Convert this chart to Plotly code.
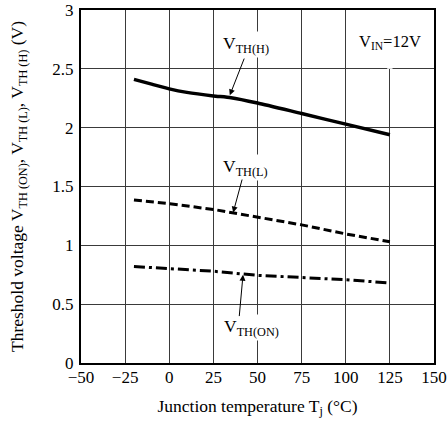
import plotly.graph_objects as go

# Junction temperature (°C)
temp_h = [-20, -10, 0, 10, 25, 35, 50, 75, 100, 125]
vth_h = [2.41, 2.37, 2.33, 2.30, 2.27, 2.255, 2.21, 2.12, 2.03, 1.94]

temp_l = [-20, 0, 25, 50, 75, 100, 125]
vth_l = [1.385, 1.354, 1.305, 1.24, 1.174, 1.097, 1.03]

temp_on = [-20, 0, 25, 50, 75, 100, 125]
vth_on = [0.82, 0.805, 0.78, 0.745, 0.727, 0.708, 0.68]

x_ticks = [-50, -25, 0, 25, 50, 75, 100, 125, 150]
y_ticks = [0, 0.5, 1, 1.5, 2, 2.5, 3]

FONT = "'Liberation Serif', 'Times New Roman', Times, serif"

fig = go.Figure()
fig.add_trace(go.Scatter(x=temp_h, y=vth_h, mode="lines", name="VTH(H)",
                         line=dict(color="black", width=3.5, shape="spline", smoothing=0.6)))
fig.add_trace(go.Scatter(x=temp_l, y=vth_l, mode="lines", name="VTH(L)",
                         line=dict(color="black", width=3, dash="8px,4px")))
fig.add_trace(go.Scatter(x=temp_on, y=vth_on, mode="lines", name="VTH(ON)",
                         line=dict(color="black", width=3, dash="11px,4px,3px,4px")))

# mask of the 125 °C gridline behind the V_IN label
fig.add_shape(type="rect", x0=123.5, x1=126.5, y0=2.5, y1=3, layer="between",
              line=dict(width=0), fillcolor="white")

ann_font = dict(family=FONT, size=17.5, color="black")
labels = [
    ("V<sub>TH(H)</sub>", 43.3, 2.71, 42.8, 2.6, 34.3, 2.275),
    ("V<sub>TH(L)</sub>", 43.4, 1.66, 41.5, 1.572, 36.2, 1.278),
    ("V<sub>TH(ON)</sub>", 46.7, 0.30, 39.6, 0.386, 41.8, 0.75),
]
for txt, tx, ty, ax_, ay_, px, py in labels:
    fig.add_annotation(x=tx, y=ty, text=txt, showarrow=False, font=ann_font,
                       bgcolor="white", borderpad=1)
    fig.add_annotation(x=px, y=py, ax=ax_, ay=ay_, axref="x", ayref="y", text="",
                       showarrow=True, arrowhead=2, arrowsize=1.2, arrowwidth=1,
                       arrowcolor="black")
fig.add_annotation(x=125.3, y=2.727, text="V<sub>IN</sub>=12V", showarrow=False,
                   font=dict(family=FONT, size=16.5, color="black"), bgcolor="white", borderpad=1)

fig.update_layout(
    width=448, height=425,
    margin=dict(l=81, r=13.5, t=9.5, b=61.5),
    paper_bgcolor="white", plot_bgcolor="white",
    showlegend=False,
    font=dict(family=FONT, size=17, color="black"),
)
fig.update_xaxes(range=[-50, 150], tickvals=x_ticks, ticktext=[str(v).replace("-", "−") for v in x_ticks],
                 showgrid=True, gridcolor="#3a3a3a", gridwidth=1, automargin=False,
                 showline=True, linecolor="black", linewidth=2, mirror=True,
                 zeroline=False, ticks="", ticklabelstandoff=-2,
                 tickfont=dict(family=FONT, size=17),
                 title=dict(text="Junction temperature T<sub>j</sub> (°C)",
                            font=dict(family=FONT, size=17.5), standoff=13))
fig.update_yaxes(range=[0, 3], tickvals=y_ticks, ticktext=[f"{v:g}" for v in y_ticks],
                 showgrid=True, gridcolor="#3a3a3a", gridwidth=1, automargin=False,
                 showline=True, linecolor="black", linewidth=2, mirror=True,
                 zeroline=False, ticks="", ticklabelstandoff=2,
                 tickfont=dict(family=FONT, size=17),
                 title=dict(text="Threshold voltage V<sub>TH (ON)</sub>, V<sub>TH (L)</sub>, V<sub>TH (H)</sub> (V)",
                            font=dict(family=FONT, size=17.5), standoff=24))

fig.write_html("out.html", config={"displayModeBar": False},
               post_script="document.body.style.margin='0';")
